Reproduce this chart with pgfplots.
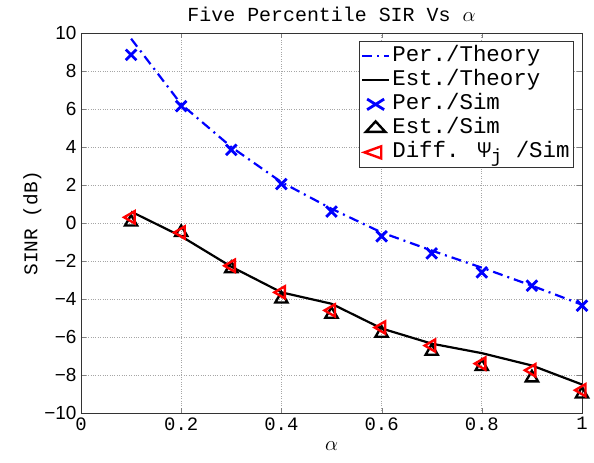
\documentclass[border=0pt]{standalone}
\usepackage{fontspec}
\usepackage{pgfplots}
\pgfplotsset{compat=1.18}
\setmainfont{Liberation Mono}
\newfontfamily\sansf{Liberation Sans}

\definecolor{matblue}{RGB}{0,0,255}
\definecolor{matred}{RGB}{255,0,0}

\begin{document}
\begin{tikzpicture}
\begin{axis}[
scale only axis,
width=501bp, height=380bp,
xmin=0, xmax=1,
ymin=-10, ymax=10,
xtick={0,0.2,0.4,0.6,0.8,1},
xticklabels={0,0.2,0.4,0.6,0.8,1},
ytick={-10,-8,-6,-4,-2,0,2,4,6,8,10},
yticklabels={−10,−8,−6,−4,−2,0,2,4,6,8,10},
tick align=inside,
major tick length=5bp,
xmajorgrids, ymajorgrids,
grid style={dotted, gray!70, line width=0.7bp},
axis line style={line width=0.8bp, black!80},
xticklabel style={font=\fontsize{19}{21}\selectfont, yshift=-1bp},
yticklabel style={font=\sansf\fontsize{19}{21}\selectfont, xshift=-1bp},
title={Five Percentile SIR Vs $\alpha$},
title style={font=\fontsize{20}{24}\selectfont, yshift=2bp},
xlabel={$\alpha$},
xlabel style={font=\fontsize{21}{23}\selectfont, yshift=-4bp},
ylabel={SINR (dB)},
ylabel style={font=\fontsize{19.5}{21}\selectfont, yshift=-4bp},
legend cell align={left},
legend style={
  at={(0.984,0.979)}, anchor=north east,
  font=\fontsize{22.5}{24}\selectfont,
  draw=black!80, line width=0.8bp,
  inner xsep=2bp, inner ysep=3bp, row sep=0bp,
  nodes={inner ysep=1bp, text height=16bp, text depth=6bp},
  /tikz/every even column/.append style={column sep=3bp}
},
legend image post style={xscale=1.6},
]
\addplot [matblue, line width=2.2bp, dash pattern=on 10bp off 5bp on 2bp off 5bp]
table {%
0.1 9.7
0.2 6.25
0.3 4.0
0.4 2.15
0.5 0.75
0.6 -0.5
0.7 -1.45
0.8 -2.35
0.9 -3.3
1.0 -4.3
};
\addlegendentry{Per./Theory}
\addplot [black, line width=2.2bp]
table {%
0.1 0.6
0.2 -0.7
0.3 -2.3
0.4 -3.65
0.5 -4.25
0.6 -5.55
0.7 -6.35
0.8 -6.85
0.9 -7.5
1.0 -8.5
};
\addlegendentry{Est./Theory}
\addplot [only marks, matblue, mark=x, mark size=7.5bp, mark options={line width=2.8bp}]
table {%
0.1 8.85
0.2 6.15
0.3 3.85
0.4 2.05
0.5 0.6
0.6 -0.7
0.7 -1.6
0.8 -2.6
0.9 -3.3
1.0 -4.35
};
\addlegendentry{Per./Sim}
\addplot [only marks, black, mark=triangle, mark size=7bp, mark options={line width=2.4bp}]
table {%
0.1 0.05
0.2 -0.5
0.3 -2.4
0.4 -4.0
0.5 -4.8
0.6 -5.8
0.7 -6.75
0.8 -7.55
0.9 -8.15
1.0 -9.0
};
\addlegendentry{Est./Sim}
\addplot [only marks, matred, mark=triangle, mark size=7bp, mark options={line width=2.4bp, rotate=90}]
table {%
0.1 0.3
0.2 -0.5
0.3 -2.25
0.4 -3.65
0.5 -4.6
0.6 -5.5
0.7 -6.45
0.8 -7.4
0.9 -7.75
1.0 -8.8
};
\addlegendentry{Diff. Ψ\raisebox{-0.45ex}{\fontsize{19}{20}\selectfont j} /Sim}
\end{axis}
\useasboundingbox (-81bp,-50bp) rectangle (513bp,413bp);
\end{tikzpicture}
\end{document}
